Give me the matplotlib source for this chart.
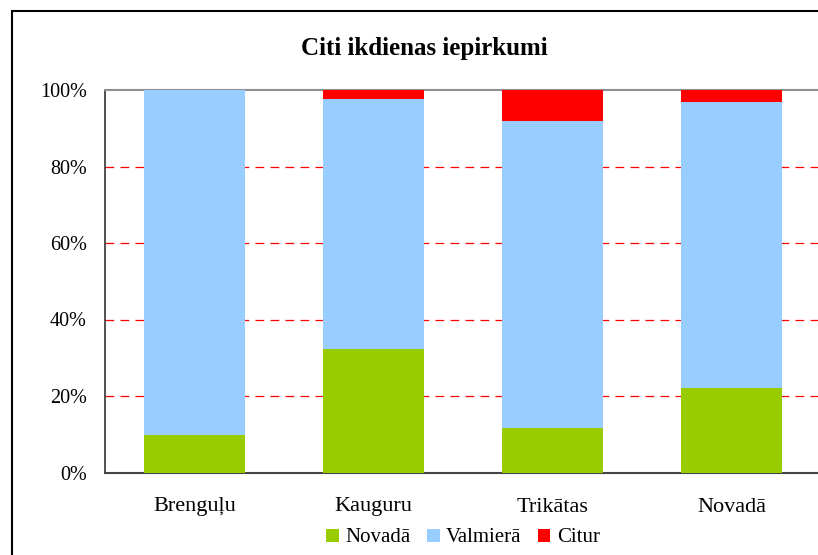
import numpy as np
import matplotlib.pyplot as plt
from matplotlib.patches import Rectangle

plt.rcParams['font.family'] = ['Liberation Serif', 'DejaVu Serif']

categories = ['Brenguļu', 'Kauguru', 'Trikātas', 'Novadā']
novada = [9.9, 32.3, 11.7, 22.1]
valmiera = [90.1, 65.3, 80.2, 74.8]
citur = [0.0, 2.4, 8.1, 3.1]
series_names = ['Novadā', 'Valmierā', 'Citur']
colors = ['#99cc00', '#99ccff', '#ff0000']

W, H = 818, 555
fig = plt.figure(figsize=(W / 100, H / 100), dpi=100)

# outer chart frame
fig.patches.append(Rectangle((12 / W, -0.1), 1.2, (H - 11) / H + 0.1,
                             transform=fig.transFigure, fill=False,
                             edgecolor='black', linewidth=1.5))

left, right, top, bottom = 105, 821, 90, 472.5
ax = fig.add_axes([left / W, (H - bottom) / H, (right - left) / W, (bottom - top) / H])

ind = np.arange(len(categories))
width = 0.56
b1 = ax.bar(ind, novada, width, color=colors[0], zorder=3)
b2 = ax.bar(ind, valmiera, width, bottom=novada, color=colors[1], zorder=3)
b3 = ax.bar(ind, citur, width, bottom=np.array(novada) + np.array(valmiera),
            color=colors[2], zorder=3)

ax.set_xlim(-0.5, 3.5)
ax.set_ylim(0, 100)
for y in [20, 40, 60, 80]:
    ax.axhline(y, color='red', linestyle=(0, (7, 5)), linewidth=0.9, zorder=1)

ax.set_yticks([0, 20, 40, 60, 80, 100])
ax.set_yticklabels(['0%', '20%', '40%', '60%', '80%', '100%'])
ax.set_xticks(ind)
ax.set_xticklabels(categories)
ax.tick_params(axis='both', length=0)
ax.tick_params(axis='y', pad=13, labelsize=14.5)
ax.tick_params(axis='x', pad=18, labelsize=16)

ax.spines['right'].set_visible(False)
ax.spines['top'].set_color('#909090')
ax.spines['top'].set_linewidth(1.5)
ax.spines['left'].set_color('#333333')
ax.spines['left'].set_linewidth(1.2)
ax.spines['bottom'].set_color('#444444')
ax.spines['bottom'].set_linewidth(1.5)

fig.text(424 / W, 1 - 48 / H, 'Citi ikdienas iepirkumi', ha='center', va='center',
         fontsize=18, fontweight='bold')

fig.legend((b1, b2, b3), series_names, loc='center', ncol=3,
           bbox_to_anchor=(463 / W, 1 - 538 / H), frameon=False, fontsize=15,
           handlelength=0.6, handleheight=0.6, handletextpad=0.3, columnspacing=0.8)

fig.savefig('out.png', dpi=100)
